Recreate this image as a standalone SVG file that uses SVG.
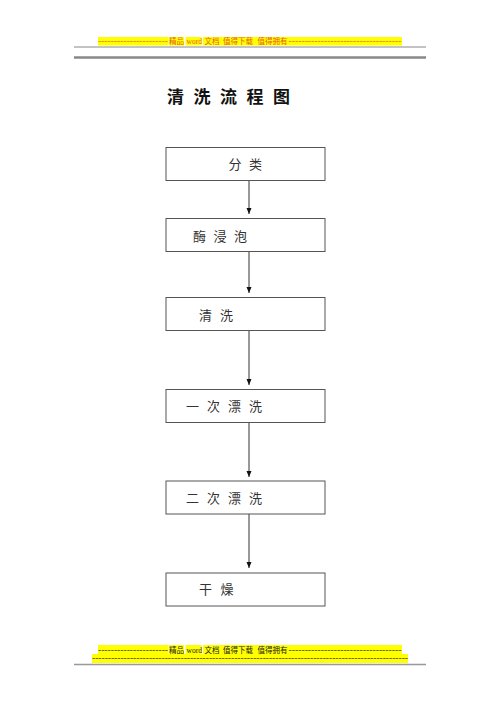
<svg xmlns="http://www.w3.org/2000/svg" width="500" height="707" viewBox="0 0 500 707">
<defs>
<style>
.box{fill:#fff;stroke:#555;stroke-width:1}
.lbl{font-family:"Liberation Serif","Noto Sans CJK SC",serif;font-size:13px;fill:#333;dominant-baseline:central}
.title{font-family:"Noto Sans CJK SC",sans-serif;font-size:17px;font-weight:bold;fill:#111;dominant-baseline:central}
.hl{fill:#ffff00}
.ht{font-family:"Liberation Serif","Noto Sans CJK SC",serif;font-size:7.5px;dominant-baseline:central}
.conn line{stroke:#333;stroke-width:1}
</style>
<marker id="arr" viewBox="0 0 6 6" refX="6" refY="3" markerWidth="6" markerHeight="6" markerUnits="userSpaceOnUse" orient="auto">
<path d="M0,0.5 L6,3 L0,5.5 Z" fill="#111"/>
</marker>
</defs>
<rect width="500" height="707" fill="#fff"/>
<g id="header">
<rect class="hl" x="98" y="37" width="70" height="8.5"/>
<rect class="hl" x="168.5" y="37" width="15.5" height="8.5"/>
<rect class="hl" x="185.5" y="37" width="16" height="8.5"/>
<rect class="hl" x="203" y="37" width="199" height="8.5"/>
<text class="ht" fill="#e8601c" y="41.2"><tspan x="98" textLength="70" lengthAdjust="spacingAndGlyphs">----------------------</tspan><tspan x="169">精品</tspan><tspan x="186.5">word</tspan><tspan x="204.5">文档</tspan><tspan x="223">值得下载</tspan><tspan x="257.5">值得拥有</tspan><tspan x="288.5" textLength="113" lengthAdjust="spacingAndGlyphs">-----------------------------------</tspan></text>
<line x1="74" y1="47" x2="426" y2="47" stroke="#888" stroke-width="1"/>
<line x1="74" y1="57.5" x2="426" y2="57.5" stroke="#888" stroke-width="2.5"/>
</g>
<g id="title"><text class="title" y="95" x="167 193.5 220 246.5 273">清洗流程图</text></g>
<g class="conn" id="connectors">
<line x1="249" y1="180" x2="249" y2="214" marker-end="url(#arr)"/>
<line x1="249" y1="252" x2="249" y2="293" marker-end="url(#arr)"/>
<line x1="249" y1="330" x2="249" y2="385" marker-end="url(#arr)"/>
<line x1="249" y1="423" x2="249" y2="477" marker-end="url(#arr)"/>
<line x1="249" y1="514" x2="249" y2="568" marker-end="url(#arr)"/>
</g>
<g id="n1"><rect class="box" x="166" y="147.5" width="159" height="33"/><text class="lbl" y="164" x="228.5 249">分类</text></g>
<g id="n2"><rect class="box" x="166" y="218.5" width="159" height="33"/><text class="lbl" y="236" x="193 213.5 234">酶浸泡</text></g>
<g id="n3"><rect class="box" x="166" y="297.5" width="159" height="33"/><text class="lbl" y="315" x="199 220">清洗</text></g>
<g id="n4"><rect class="box" x="166" y="389.5" width="159" height="33"/><text class="lbl" y="406" x="186 207 228 249">一次漂洗</text></g>
<g id="n5"><rect class="box" x="166" y="481" width="159" height="33"/><text class="lbl" y="498" x="186 207 228 249">二次漂洗</text></g>
<g id="n6"><rect class="box" x="166" y="573" width="159" height="33"/><text class="lbl" y="589.5" x="199 220.5">干燥</text></g>
<g id="footer">
<rect class="hl" x="98" y="645" width="70" height="9"/>
<rect class="hl" x="168.5" y="645" width="15.5" height="9"/>
<rect class="hl" x="185.5" y="645" width="16" height="9"/>
<rect class="hl" x="203" y="645" width="199" height="9"/>
<rect class="hl" x="92" y="654" width="316" height="9"/>
<text class="ht" fill="#222" y="649.5"><tspan x="98" textLength="70" lengthAdjust="spacingAndGlyphs">----------------------</tspan><tspan x="169">精品</tspan><tspan x="186.5">word</tspan><tspan x="204.5">文档</tspan><tspan x="223">值得下载</tspan><tspan x="257.5">值得拥有</tspan><tspan x="288.5" textLength="113" lengthAdjust="spacingAndGlyphs">-----------------------------------</tspan></text>
<text class="ht" fill="#222" y="658.5" x="92" textLength="316" lengthAdjust="spacingAndGlyphs">----------------------------------------------------------------------------------------------------</text>
<line x1="74" y1="664.5" x2="426" y2="664.5" stroke="#999" stroke-width="1.5"/>
</g>
</svg>
